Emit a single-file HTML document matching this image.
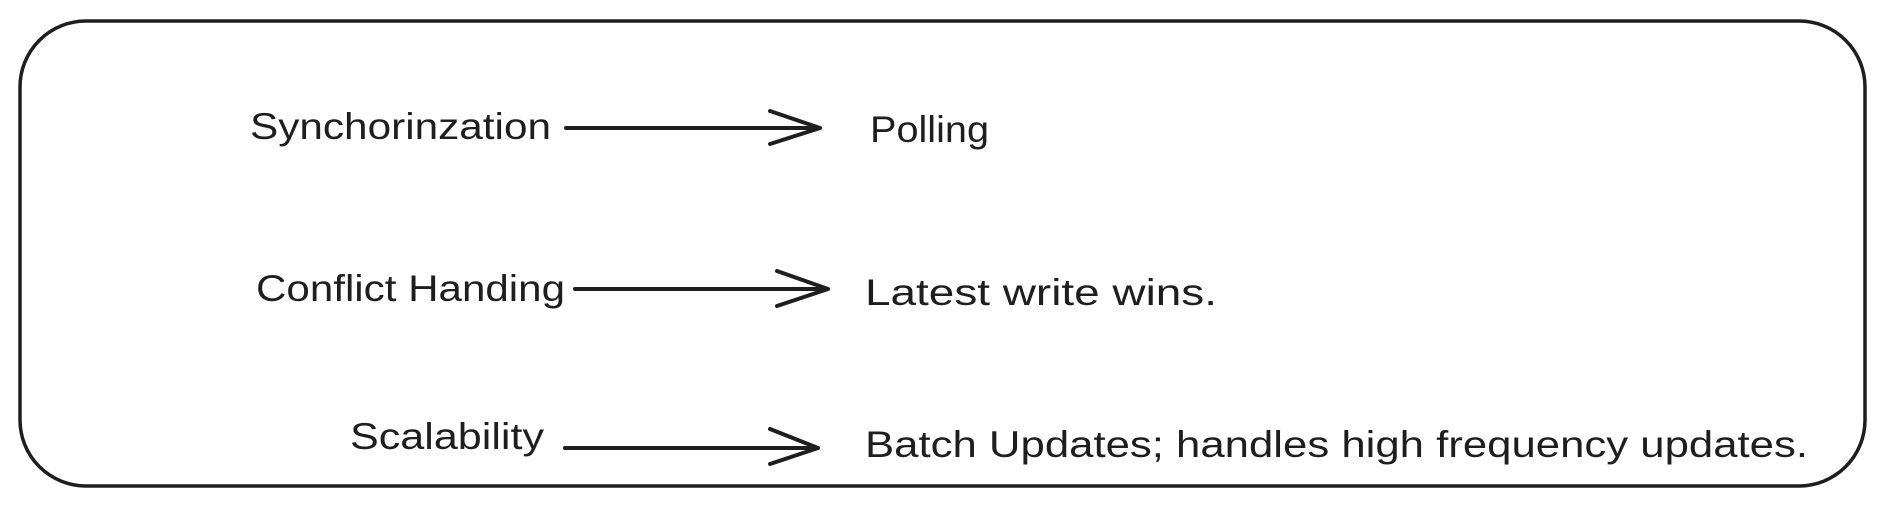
<!DOCTYPE html>
<html><head><style>html,body{margin:0;padding:0;background:#fff;}svg{display:block}</style></head>
<body>
<svg width="1886" height="506" viewBox="0 0 1886 506" xmlns="http://www.w3.org/2000/svg">
<rect x="20" y="21" width="1845" height="465" rx="66" ry="66" fill="none" stroke="#1e1e1e" stroke-width="3.5"/>
<g fill="none" stroke="#1e1e1e" stroke-width="4" stroke-linecap="round" stroke-linejoin="round">
<path d="M566 128 L820 128 M770 111 L820 128 L770 144"/>
<path d="M575 289 L828 289 M777 271 L828 289 L777 306"/>
<path d="M565 448 L818 448 M770 429 L818 448 L770 464"/>
</g>
<g font-family="'Liberation Sans', sans-serif" font-size="37" fill="#1e1e1e">
<text x="250" y="139" textLength="301" lengthAdjust="spacingAndGlyphs">Synchorinzation</text>
<text x="870" y="142" textLength="119" lengthAdjust="spacingAndGlyphs">Polling</text>
<text x="256" y="301" textLength="309" lengthAdjust="spacingAndGlyphs">Conflict Handing</text>
<text x="865" y="305" textLength="352" lengthAdjust="spacingAndGlyphs">Latest write wins.</text>
<text x="350" y="449" textLength="194" lengthAdjust="spacingAndGlyphs">Scalability</text>
<text x="865" y="457" textLength="943" lengthAdjust="spacingAndGlyphs">Batch Updates; handles high frequency updates.</text>
</g>
</svg>
</body></html>
